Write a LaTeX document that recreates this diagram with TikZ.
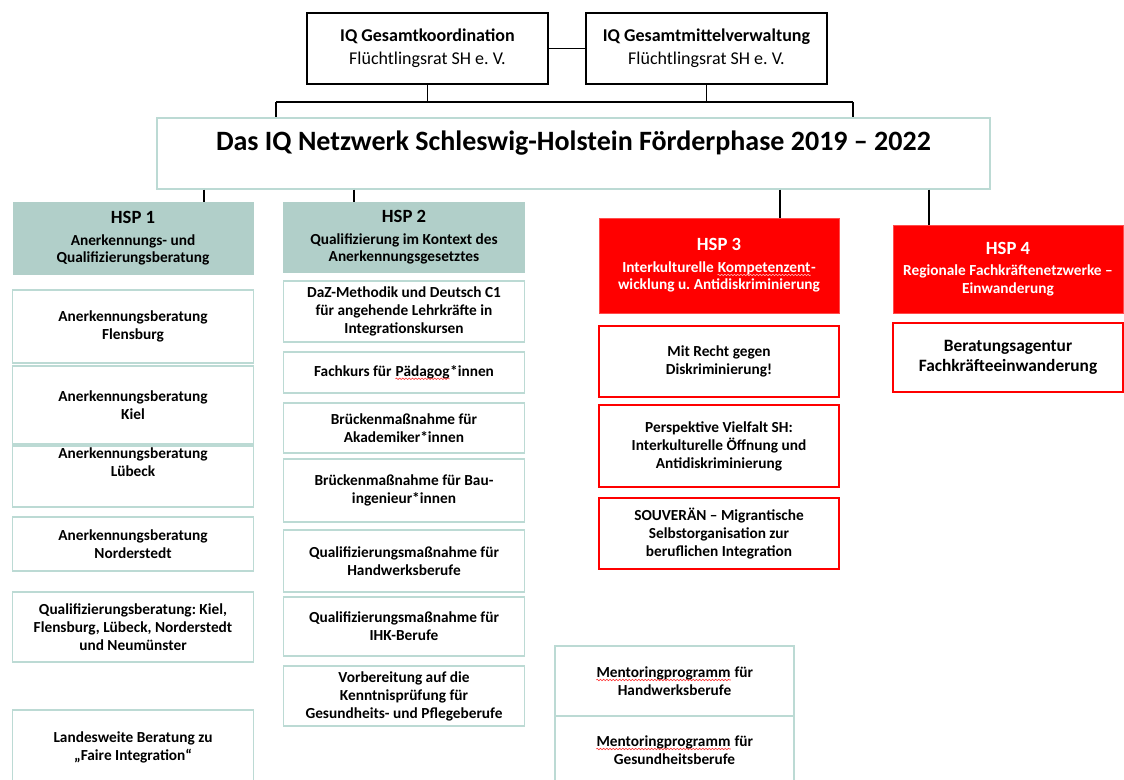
\documentclass[tikz,border=0pt]{standalone}
\usepackage{fontspec}
\setmainfont{Carlito}
\usepackage{xcolor}
\usepackage{tikz}
\usetikzlibrary{positioning,decorations.pathmorphing}
\definecolor{iqteal}{RGB}{177,207,201}
\definecolor{iqline}{RGB}{188,218,212}
\definecolor{iqred}{RGB}{255,0,0}
\frenchspacing
\newcommand{\hsptitle}[1]{{\fontsize{14}{17}\selectfont #1}\\[3pt]}
% spell-check squiggle under a word
\newcommand{\squig}[2][red!80]{\tikz[baseline=(w.base)]{\node[inner sep=0pt, minimum width=0pt, minimum height=0pt,
    draw=none, fill=none, text depth=0pt] (w) {#2};
  \draw[#1, line width=0.45pt, decorate, decoration={snake, amplitude=0.55pt, segment length=2.4pt}]
    ([yshift=-2pt]w.base west) -- ([yshift=-2pt]w.base east);}}

\begin{document}
\begin{tikzpicture}[
      x=0.75pt, y=-0.75pt,
      wh/.style 2 args={minimum width=#1*0.75pt, minimum height=#2*0.75pt},
      every node/.style={align=center, inner sep=0pt},
      topbox/.style={draw=black, line width=1.1pt, font=\fontsize{13.5}{17}\selectfont},
      titlebox/.style={draw=iqline, line width=1pt, font=\bfseries\fontsize{21}{25}\selectfont, text depth=19pt},
      head/.style={fill=iqteal, font=\bfseries\fontsize{11.5}{13}\selectfont},
      redhead/.style={head, fill=iqred, draw=iqred!70, text=white},
      item/.style={draw=iqline, line width=1pt, font=\bfseries\fontsize{11.5}{13.5}\selectfont},
      reditem/.style={item, draw=iqred, line width=1.3pt},
      link/.style={draw=black, line width=1.1pt}
    ]
      \useasboundingbox (0,0) rectangle (1124,780);

      % coordination on top
      \node[topbox, wh={241}{71}] (koord) at (427.5,48.5) {\textbf{IQ Gesamtkoordination}\\Flüchtlingsrat SH e. V.};
      \node[topbox, wh={241}{71}] (mittel) at (706.5,48.5) {\textbf{IQ Gesamtmittelverwaltung}\\Flüchtlingsrat SH e. V.};
      \node[titlebox, wh={833}{71}] (netz) at (573.5,153.5) {Das IQ Netzwerk Schleswig-Holstein Förderphase 2019 – 2022};

      % the four HSP heads
      \node[head, wh={241}{73}] (hsp1) at (133,238.5) {\hsptitle{HSP 1}Anerkennungs- und\\Qualifizierungsberatung};
      \node[head, wh={242}{71}] (hsp2) at (404,237.5) {\hsptitle{HSP 2}Qualifizierung im Kontext des\\Anerkennungsgesetztes};
      \node[redhead, wh={240}{95}] (hsp3) at (719,265.5) {\hsptitle{HSP 3}Interkulturelle \squig[white!70!red]{Kompetenzent}-\\wicklung u. Antidiskriminierung};
      \node[redhead, wh={230}{88}] (hsp4) at (1008,269) {\hsptitle{HSP 4}Regionale Fachkräftenetzwerke –\\Einwanderung};

      % HSP 1
      \node[item, wh={241}{73}] (flens) at (133,326.5) {Anerkennungsberatung\\Flensburg};
      \node[item, wh={241}{78}] (kiel) at (133,405) {Anerkennungsberatung\\Kiel};
      \node[item, wh={241}{61}] (luebeck) at (133,476.5) {Anerkennungsberatung\\Lübeck\\[8pt]\mbox{}};
      \node[item, wh={241}{54}] (norder) at (133,544) {Anerkennungsberatung\\Norderstedt};
      \node[item, wh={241}{70}] (qualib) at (133,627) {Qualifizierungsberatung: Kiel,\\Flensburg, Lübeck, Norderstedt\\und Neumünster};
      \node[item, wh={241}{74}] (faire) at (133,747) {Landesweite Beratung zu\\„Faire Integration“};

      % HSP 2
      \node[item, wh={241}{61}] (daz) at (404,311.5) {DaZ-Methodik und Deutsch C1\\für angehende Lehrkräfte in\\Integrationskursen};
      \node[item, wh={241}{41}] (fachk) at (404,372.5) {Fachkurs für \squig{Pädagog}*innen};
      \node[item, wh={241}{50}] (akad) at (404,428) {Brückenmaßnahme für\\Akademiker*innen};
      \node[item, wh={241}{63}] (bau) at (404,490.5) {Brückenmaßnahme für Bau-\\ingenieur*innen};
      \node[item, wh={241}{62}] (handw) at (404,561) {Qualifizierungsmaßnahme für\\Handwerksberufe};
      \node[item, wh={241}{59}] (ihk) at (404,626.5) {Qualifizierungsmaßnahme für\\IHK-Berufe};
      \node[item, wh={241}{60}] (pflege) at (404,696) {Vorbereitung auf die\\Kenntnisprüfung für\\Gesundheits- und Pflegeberufe};

      % HSP 3
      \node[reditem, wh={240}{71}] (recht) at (719,361.5) {Mit Recht gegen\\Diskriminierung!};
      \node[reditem, wh={240}{82}] (vielfalt) at (719,446) {Perspektive Vielfalt SH:\\Interkulturelle Öffnung und\\Antidiskriminierung};
      \node[reditem, wh={240}{71}] (souv) at (719,533.5) {SOUVERÄN – Migrantische\\Selbstorganisation zur\\beruflichen Integration};

      % mentoring
      \node[item, wh={239}{70}] (menthw) at (674.5,681) {\squig{Mentoringprogramm} für\\Handwerksberufe};
      \node[item, wh={239}{68}] (mentgs) at (674.5,750) {\squig{Mentoringprogramm} für\\Gesundheitsberufe};

      % HSP 4
      \node[reditem, wh={230}{69}, font=\bfseries\fontsize{13}{15.5}\selectfont] (agentur) at (1008,357.5) {Beratungsagentur\\Fachkräfteeinwanderung};

      % connectors
      \coordinate (busl) at (276,102);
      \coordinate (busr) at (853,102);
      \coordinate (d1) at (204,0);
      \coordinate (d2) at (354,0);
      \coordinate (d3) at (780,0);
      \coordinate (d4) at (929,0);
      \draw[link] (koord) -- (mittel);
      \draw[link] (koord.south) -- (koord.south |- busl);
      \draw[link] (mittel.south) -- (mittel.south |- busl);
      \draw[link] (busl) -- (busr);
      \draw[link] (busl) -- (busl |- netz.north);
      \draw[link] (busr) -- (busr |- netz.north);
      \draw[link] (netz.south -| d1) -- (hsp1.north -| d1);
      \draw[link] (netz.south -| d2) -- (hsp2.north -| d2);
      \draw[link] (netz.south -| d3) -- (hsp3.north -| d3);
      \draw[link] (netz.south -| d4) -- (hsp4.north -| d4);
    \end{tikzpicture}
\end{document}
